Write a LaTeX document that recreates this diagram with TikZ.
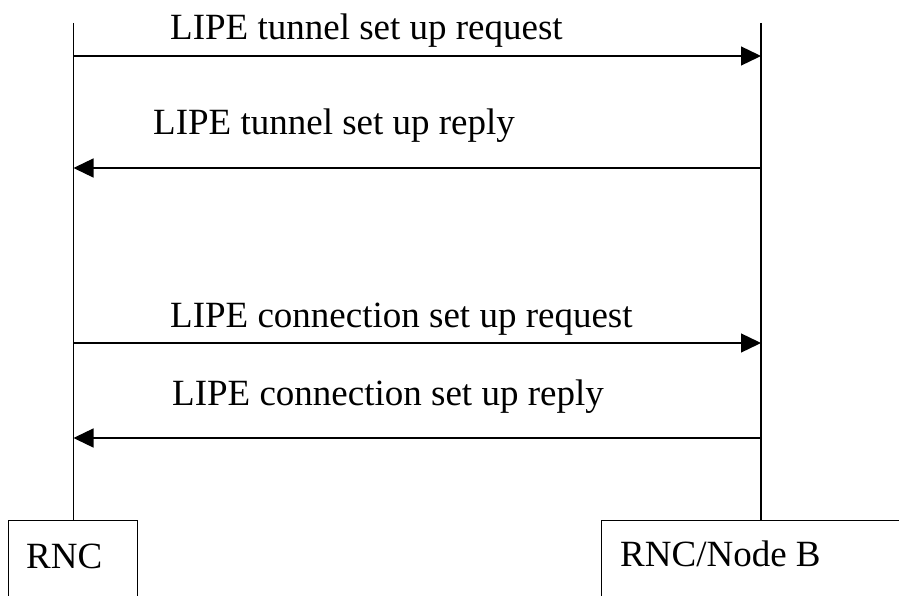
\documentclass[tikz,border=0pt]{standalone}
\usepackage{fontspec}
\setmainfont{Liberation Serif}
\usetikzlibrary{arrows.meta}
\begin{document}
\begin{tikzpicture}[x=1pt,y=-1pt,
  every node/.style={font=\fontsize{37}{44}\selectfont, inner sep=0pt},
  lane/.style={line width=1.3pt},
  msg/.style={line width=1.3pt, -{Triangle[length=20pt,width=19pt]}},
  lbl/.style={anchor=base west},
  boxshape/.style={draw, line width=1.3pt, anchor=north west}]
\useasboundingbox (0,0) rectangle (899,596);
\clip (0,0) rectangle (899,596);
% boxes
\node[boxshape, minimum width=129pt, minimum height=100pt] (rnc) at (8,520) {};
\node[boxshape, minimum width=320pt, minimum height=100pt] (nodeb) at (601,520) {};
\node[lbl] (rnctxt) at (26,568) {RNC};
\node[lbl] (nodebtxt) at (620,566) {RNC/Node B};
% lifelines
\coordinate (La) at (73.5,23);
\coordinate (Ra) at (761,23);
\coordinate (Lb) at (73.5,520);
\coordinate (Rb) at (761,520);
\draw[lane] (La) -- (Lb);
\draw[lane] (Ra) -- (Rb);
% message endpoints
\coordinate (L1) at (73.5,56);  \coordinate (R1) at (761,56);
\coordinate (L2) at (73.5,168); \coordinate (R2) at (761,168);
\coordinate (L3) at (73.5,343); \coordinate (R3) at (761,343);
\coordinate (L4) at (73.5,438); \coordinate (R4) at (761,438);
\draw[msg] (L1) -- (R1);
\draw[msg] (R2) -- (L2);
\draw[msg] (L3) -- (R3);
\draw[msg] (R4) -- (L4);
% labels
\node[lbl] (t1) at (170,40) {LIPE tunnel set up request};
\node[lbl] (t2) at (153,135) {LIPE tunnel set up reply};
\node[lbl] (t3) at (170,327) {LIPE connection set up request};
\node[lbl] (t4) at (172,405) {LIPE connection set up reply};
\end{tikzpicture}
\end{document}
